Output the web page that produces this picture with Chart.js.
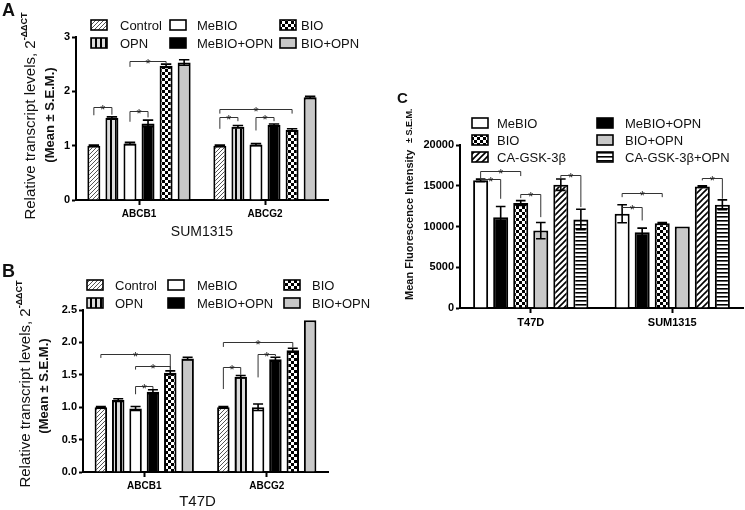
<!DOCTYPE html>
<html lang="en">
<head>
<meta charset="UTF-8">
<title>Transcript levels and fluorescence intensity</title>
<script src="https://cdn.jsdelivr.net/npm/chart.js"></script>
<style>
    body { margin: 0; background: #fff; font-family: Arial, "Liberation Sans", sans-serif; }
    #page { position: relative; width: 745px; height: 510px; overflow: hidden; }
    .panel { position: absolute; }
    .letter { position: absolute; font-weight: bold; color: #111; line-height: 1; }
</style>
</head>
<body>
<div id="page">
    <canvas class="panel" id="chartA" width="360" height="252" style="left:0;top:0"></canvas>
    <canvas class="panel" id="chartB" width="372" height="248" style="left:0;top:262px"></canvas>
    <canvas class="panel" id="chartC" width="385" height="270" style="left:360px;top:80px"></canvas>
    <div class="letter" style="left:2px;top:1px;font-size:18px">A</div>
    <div class="letter" style="left:2px;top:262px;font-size:18px">B</div>
    <div class="letter" style="left:397px;top:90px;font-size:15px">C</div>
</div>

<script>
    // --- data ---
    const genes = ['ABCB1', 'ABCG2'];
    const seriesAB = ['Control', 'OPN', 'MeBIO', 'MeBIO+OPN', 'BIO', 'BIO+OPN'];

    // A: SUM1315, one array per gene, values in series order
    const sumABCB1 = [1.00, 1.51, 1.04, 1.41, 2.47, 2.53];
    const sumABCB1Err = [0.01, 0.02, 0.02, 0.06, 0.03, 0.05];
    const sumABCG2 = [1.00, 1.35, 1.02, 1.38, 1.29, 1.89];
    const sumABCG2Err = [0.01, 0.02, 0.02, 0.02, 0.02, 0.02];
    // [gene, from series, to series, bracket level, left leg end, right leg end]
    const sumBrackets = [
        [0, 0, 1, 1.72, 1.56, 1.57],
        [0, 2, 3, 1.64, 1.44, 1.52],
        [0, 2, 4, 2.56, 2.45, 2.51],
        [1, 0, 4, 1.68, 1.59, 1.59],
        [1, 0, 1, 1.52, 1.31, 1.45],
        [1, 2, 3, 1.52, 1.28, 1.45],
    ];

    // B: T47D
    const t47ABCB1 = [1.00, 1.11, 0.98, 1.24, 1.53, 1.75];
    const t47ABCB1Err = [0.01, 0.02, 0.03, 0.03, 0.03, 0.02];
    const t47ABCG2 = [1.00, 1.47, 1.00, 1.74, 1.88, 2.34];
    const t47ABCG2Err = [0.01, 0.02, 0.05, 0.03, 0.03, 0.00];
    const t47Brackets = [
        [0, 0, 4, 1.82, 1.76, 1.58],
        [0, 2, 4, 1.64, 1.58, 1.57],
        [0, 2, 3, 1.32, 1.20, 1.28],
        [1, 0, 4, 2.01, 1.93, 1.92],
        [1, 2, 3, 1.82, 1.46, 1.79],
        [1, 0, 1, 1.62, 1.28, 1.50],
    ];

    // C: mean fluorescence intensity
    const cellLines = ['T47D', 'SUM1315'];
    const seriesC = ['MeBIO', 'MeBIO+OPN', 'BIO', 'BIO+OPN', 'CA-GSK-3β', 'CA-GSK-3β+OPN'];
    const fluoT47D = [15660, 11150, 12870, 9500, 15130, 10860];
    const fluoT47DErr = [150, 1300, 300, 1000, 700, 1250];
    const fluoSUM = [11560, 9300, 10400, 10000, 14900, 12670];
    const fluoSUMErr = [1100, 500, 100, 0, 100, 600];
    const fluoBrackets = [
        [0, 0, 2, 16770, 15870, 16190],
        [0, 0, 1, 15870, 15870, 13400],
        [0, 2, 3, 14020, 13480, 11150],
        [0, 4, 5, 16360, 15870, 12380],
        [1, 0, 2, 14140, 13600, 13600],
        [1, 0, 1, 12380, 12200, 10740],
        [1, 4, 5, 16000, 15660, 13400],
    ];

    const FONT = 'Arial, "Liberation Sans", sans-serif';
    Chart.defaults.font.family = FONT;
    Chart.defaults.color = '#000';

    // fill patterns
    function pattern(kind) {
        const c = document.createElement('canvas');
        const g = c.getContext('2d');
        if (kind === 'hatch' || kind === 'hatchBold') {
            const s = kind === 'hatch' ? 4 : 6;
            c.width = c.height = s;
            g.fillStyle = '#fff';
            g.fillRect(0, 0, s, s);
            g.strokeStyle = kind === 'hatch' ? '#555' : '#000';
            g.lineWidth = kind === 'hatch' ? 1 : 1.6;
            g.beginPath();
            g.moveTo(-1, s + 1); g.lineTo(s + 1, -1);
            g.moveTo(-s / 2 - 1, s / 2 + 1); g.lineTo(s / 2 + 1, -s / 2 - 1);
            g.moveTo(s / 2 - 1, s * 1.5 + 1); g.lineTo(s * 1.5 + 1, s / 2 - 1);
            g.stroke();
        } else if (kind === 'vstripe') {
            c.width = 5; c.height = 2;
            g.fillStyle = '#dcdcdc';
            g.fillRect(0, 0, 5, 2);
            g.fillStyle = '#000';
            g.fillRect(0, 0, 2, 2);
        } else if (kind === 'checker') {
            c.width = c.height = 6;
            g.fillStyle = '#fff';
            g.fillRect(0, 0, 6, 6);
            g.fillStyle = '#000';
            g.fillRect(0, 0, 3, 3);
            g.fillRect(3, 3, 3, 3);
        } else if (kind === 'hline') {
            c.width = 2; c.height = 4;
            g.fillStyle = '#fff';
            g.fillRect(0, 0, 2, 4);
            g.fillStyle = '#000';
            g.fillRect(0, 0, 2, 1.6);
        }
        return g.createPattern(c, 'repeat');
    }

    const fillsAB = [pattern('hatch'), pattern('vstripe'), '#ffffff', '#000000', pattern('checker'), '#c8c8c8'];
    const fillsC = ['#ffffff', '#000000', pattern('checker'), '#c8c8c8', pattern('hatchBold'), pattern('hline')];

    // rotated text, parts drawn one after the other going upward
    function drawVertical(ctx, line) {
        ctx.save();
        ctx.translate(line.x, line.y);
        ctx.rotate(-Math.PI / 2);
        let total = 0;
        line.parts.forEach(p => { ctx.font = p.font; p.w = ctx.measureText(p.text).width; total += p.w; });
        let pos = line.align === 'start' ? 0 : -total / 2;
        ctx.textAlign = 'left';
        ctx.textBaseline = 'middle';
        ctx.fillStyle = '#111';
        line.parts.forEach(p => {
            ctx.font = p.font;
            ctx.fillText(p.text, pos, p.dy || 0);
            pos += p.w;
        });
        ctx.restore();
    }

    // error bars, significance brackets, legend and titles
    const extras = {
        id: 'extras',
        afterDatasetsDraw(chart, args, opts) {
            const ctx = chart.ctx;
            const y = chart.scales.y;
            ctx.save();

            chart.data.datasets.forEach((ds, d) => {
                chart.getDatasetMeta(d).data.forEach((bar, c) => {
                    const e = ds.errors[c];
                    if (!e) return;
                    const v = ds.data[c];
                    const top = y.getPixelForValue(v + e);
                    const bot = y.getPixelForValue(v - e);
                    const hw = bar.width * opts.cap;
                    ctx.strokeStyle = '#000';
                    ctx.lineWidth = 1.6;
                    ctx.beginPath();
                    ctx.moveTo(bar.x, top); ctx.lineTo(bar.x, bot);
                    ctx.moveTo(bar.x - hw, top); ctx.lineTo(bar.x + hw, top);
                    ctx.moveTo(bar.x - hw, bot); ctx.lineTo(bar.x + hw, bot);
                    ctx.stroke();
                });
            });

            ctx.font = '13px ' + FONT;
            ctx.textAlign = 'center';
            ctx.textBaseline = 'alphabetic';
            opts.brackets.forEach(([c, i, j, lvl, l, r]) => {
                const x1 = chart.getDatasetMeta(i).data[c].x;
                const x2 = chart.getDatasetMeta(j).data[c].x;
                const yl = Math.round(y.getPixelForValue(lvl)) + 0.5;
                ctx.strokeStyle = '#333';
                ctx.lineWidth = 1;
                ctx.beginPath();
                ctx.moveTo(x1, y.getPixelForValue(l));
                ctx.lineTo(x1, yl);
                ctx.lineTo(x2, yl);
                ctx.lineTo(x2, y.getPixelForValue(r));
                ctx.stroke();
                ctx.fillStyle = '#222';
                ctx.fillText('*', (x1 + x2) / 2, yl + 6);
            });

            const lg = opts.legend;
            ctx.font = '13px ' + FONT;
            ctx.textAlign = 'left';
            ctx.textBaseline = 'middle';
            lg.order.forEach((d, k) => {
                const col = Math.floor(k / lg.rows);
                const row = k % lg.rows;
                const ds = chart.data.datasets[d];
                const sx = lg.swatchX[col];
                const sy = lg.rowY[row];
                ctx.fillStyle = ds.backgroundColor;
                ctx.fillRect(sx, sy - 5, 16, 10);
                ctx.strokeStyle = '#000';
                ctx.lineWidth = 1.6;
                ctx.strokeRect(sx, sy - 5, 16, 10);
                ctx.fillStyle = '#111';
                ctx.fillText(ds.label, lg.textX[col], sy + 1);
            });

            opts.yTitle.forEach(line => drawVertical(ctx, line));

            if (opts.xTitle) {
                const a = chart.chartArea;
                ctx.font = opts.xTitle.font;
                ctx.textAlign = 'center';
                ctx.textBaseline = 'middle';
                ctx.fillStyle = '#111';
                ctx.fillText(opts.xTitle.text, (a.left + a.right) / 2 + (opts.xTitle.dx || 0), opts.xTitle.y);
            }
            ctx.restore();
        }
    };

    function makeDatasets(labels, fills, perCategory, perCategoryErr) {
        return labels.map((label, i) => ({
            label: label,
            data: perCategory.map(arr => arr[i]),
            errors: perCategoryErr.map(arr => arr[i]),
            backgroundColor: fills[i],
        }));
    }

    function barOptions(p) {
        return {
            responsive: false,
            animation: false,
            events: [],
            layout: { padding: { top: p.top, right: p.right, left: 0, bottom: 0 } },
            datasets: {
                bar: {
                    categoryPercentage: p.catPct,
                    barPercentage: p.barPct,
                    borderColor: '#000',
                    borderWidth: 2,
                    borderSkipped: 'start',
                }
            },
            plugins: {
                legend: { display: false },
                tooltip: { enabled: false },
                extras: p.extras,
            },
            scales: {
                x: {
                    grid: { display: true, offset: false, drawOnChartArea: false, tickLength: 5, tickColor: '#000', tickWidth: 2 },
                    border: { color: '#000', width: 2 },
                    ticks: { color: '#000', font: { weight: 'bold', size: p.catSize }, padding: 3 },
                    afterFit: s => { s.height = p.xHeight; },
                },
                y: {
                    min: 0,
                    max: p.max,
                    ticks: { stepSize: p.step, color: '#000', font: { weight: 'bold', size: 11 }, padding: 2, callback: p.fmt },
                    grid: { drawOnChartArea: false, tickLength: 4, tickColor: '#000', tickWidth: 2 },
                    border: { color: '#000', width: 2 },
                    afterFit: s => { s.width = p.left; },
                }
            }
        };
    }

    const supFont = 'bold 9px ' + FONT;

    // A: SUM1315
    new Chart(document.getElementById('chartA'), {
        type: 'bar',
        data: {
            labels: genes,
            datasets: makeDatasets(seriesAB, fillsAB, [sumABCB1, sumABCG2], [sumABCB1Err, sumABCG2Err]),
        },
        options: barOptions({
            top: 37, right: 32, left: 76, xHeight: 52, max: 3, step: 1, catSize: 10,
            catPct: 0.86, barPct: 0.72, fmt: v => String(v),
            extras: {
                cap: 0.4,
                brackets: sumBrackets,
                legend: { order: [0, 1, 2, 3, 4, 5], rows: 2, swatchX: [91, 170, 280], textX: [120, 197, 301], rowY: [25, 43] },
                yTitle: [
                    { x: 31, y: 116, parts: [
                        { text: 'Relative transcript levels, 2', font: '15px ' + FONT },
                        { text: '-ΔΔCT', font: supFont, dy: -6 },
                    ] },
                    { x: 50, y: 115, parts: [{ text: '(Mean ± S.E.M.)', font: 'bold 13px ' + FONT }] },
                ],
                xTitle: { text: 'SUM1315', font: '14px ' + FONT, y: 232 },
            }
        }),
        plugins: [extras],
    });

    // B: T47D
    new Chart(document.getElementById('chartB'), {
        type: 'bar',
        data: {
            labels: genes,
            datasets: makeDatasets(seriesAB, fillsAB, [t47ABCB1, t47ABCG2], [t47ABCB1Err, t47ABCG2Err]),
        },
        options: barOptions({
            top: 48, right: 44, left: 83, xHeight: 38, max: 2.5, step: 0.5, catSize: 10,
            catPct: 0.85, barPct: 0.72, fmt: v => v.toFixed(1),
            extras: {
                cap: 0.4,
                brackets: t47Brackets,
                legend: { order: [0, 1, 2, 3, 4, 5], rows: 2, swatchX: [87, 168, 284], textX: [115, 197, 312], rowY: [23, 41] },
                yTitle: [
                    { x: 26, y: 122, parts: [
                        { text: 'Relative transcript levels, 2', font: '15px ' + FONT },
                        { text: '-ΔΔCT', font: supFont, dy: -6 },
                    ] },
                    { x: 44, y: 124, parts: [{ text: '(Mean ± S.E.M.)', font: 'bold 13px ' + FONT }] },
                ],
                xTitle: { text: 'T47D', font: '15px ' + FONT, y: 240, dx: -8 },
            }
        }),
        plugins: [extras],
    });

    // C: fluorescence
    new Chart(document.getElementById('chartC'), {
        type: 'bar',
        data: {
            labels: cellLines,
            datasets: makeDatasets(seriesC, fillsC, [fluoT47D, fluoSUM], [fluoT47DErr, fluoSUMErr]),
        },
        options: barOptions({
            top: 65, right: 2, left: 100, xHeight: 42, max: 20000, step: 5000, catSize: 11,
            catPct: 0.85, barPct: 0.75, fmt: v => String(v),
            extras: {
                cap: 0.32,
                brackets: fluoBrackets,
                legend: { order: [0, 2, 4, 1, 3, 5], rows: 3, swatchX: [112, 237], textX: [137, 265], rowY: [43, 60, 77] },
                yTitle: [
                    { x: 50, y: 220, align: 'start', parts: [{ text: 'Mean Fluorescence Intensity', font: 'bold 11px ' + FONT }] },
                    { x: 50, y: 63, align: 'start', parts: [{ text: '± S.E.M.', font: 'bold 9px ' + FONT }] },
                ],
            }
        }),
        plugins: [extras],
    });
</script>
</body>
</html>
